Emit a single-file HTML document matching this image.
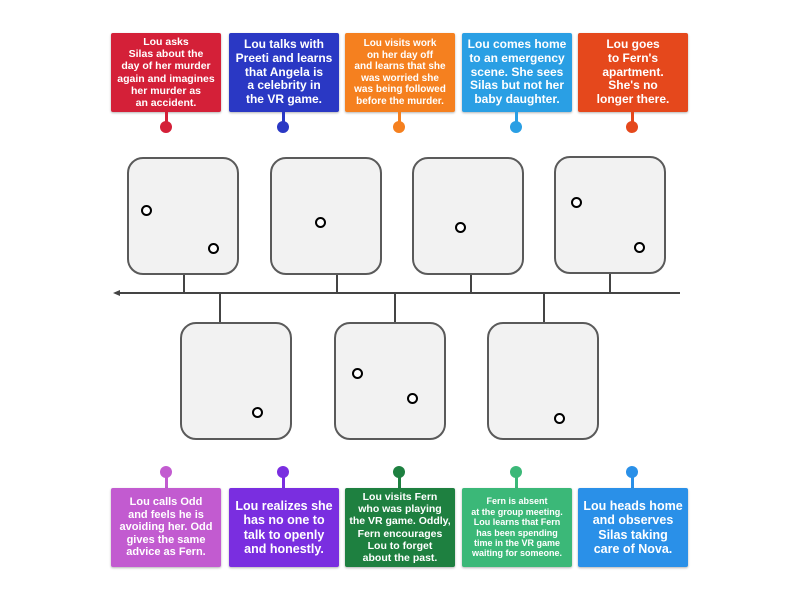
<!DOCTYPE html>
<html><head><style>
body{margin:0;width:800px;height:600px;background:#fff;position:relative;overflow:hidden;font-family:"Liberation Sans",sans-serif}
.c{position:absolute;width:110px;height:79px;color:#fff;font-weight:bold;text-align:center;display:flex;align-items:center;justify-content:center;line-height:1.15;box-shadow:0 1px 2px rgba(0,0,0,.3);border-radius:2px}
.s{position:absolute;width:3px;height:14px}
.d{position:absolute;width:12px;height:12px;border-radius:50%}
.b{position:absolute;width:108px;height:114px;background:#f2f2f2;border:2px solid #5a5a5a;border-radius:16px}
.o{position:absolute;width:7px;height:7px;border:2.5px solid #000;border-radius:50%;background:#fff}
.v{position:absolute;width:2px;background:#444}
</style></head><body>
<svg style="position:absolute;left:0;top:0" width="800" height="600">
<line x1="117" y1="293" x2="680" y2="293" stroke="#444" stroke-width="2"/>
<polygon points="113,293 120,290 120,296" fill="#444"/>
</svg>
<div class="v" style="left:183px;top:274px;height:19px"></div>
<div class="v" style="left:336px;top:274px;height:19px"></div>
<div class="v" style="left:470px;top:274px;height:19px"></div>
<div class="v" style="left:609px;top:274px;height:19px"></div>
<div class="v" style="left:219px;top:293px;height:30px"></div>
<div class="v" style="left:394px;top:293px;height:30px"></div>
<div class="v" style="left:543px;top:293px;height:30px"></div>

<div class="b" style="left:127px;top:157px"></div>
<div class="b" style="left:270px;top:157px"></div>
<div class="b" style="left:412px;top:157px"></div>
<div class="b" style="left:554px;top:156px"></div>
<div class="b" style="left:180px;top:322px"></div>
<div class="b" style="left:334px;top:322px"></div>
<div class="b" style="left:487px;top:322px"></div>

<div class="o" style="left:141px;top:205px"></div>
<div class="o" style="left:208px;top:243px"></div>
<div class="o" style="left:315px;top:217px"></div>
<div class="o" style="left:455px;top:222px"></div>
<div class="o" style="left:571px;top:197px"></div>
<div class="o" style="left:634px;top:242px"></div>
<div class="o" style="left:252px;top:407px"></div>
<div class="o" style="left:352px;top:368px"></div>
<div class="o" style="left:407px;top:393px"></div>
<div class="o" style="left:554px;top:413px"></div>

<div class="c" style="left:111px;top:33px;background:#d42038;font-size:10.5px">Lou asks<br>Silas about the<br>day of her murder<br>again and imagines<br>her murder as<br>an accident.</div>
<div class="c" style="left:229px;top:33px;background:#2a38c4;font-size:12px">Lou talks with<br>Preeti and learns<br>that Angela is<br>a celebrity in<br>the VR game.</div>
<div class="c" style="left:345px;top:33px;background:#f5801f;font-size:10px">Lou visits work<br>on her day off<br>and learns that she<br>was worried she<br>was being followed<br>before the murder.</div>
<div class="c" style="left:462px;top:33px;background:#2a9fe4;font-size:12px">Lou comes home<br>to an emergency<br>scene. She sees<br>Silas but not her<br>baby daughter.</div>
<div class="c" style="left:578px;top:33px;background:#e5481c;font-size:12px">Lou goes<br>to Fern's<br>apartment.<br>She's no<br>longer there.</div>
<div class="s" style="left:165px;top:112px;background:#d42038"></div><div class="d" style="left:160px;top:121px;background:#d42038"></div>
<div class="s" style="left:282px;top:112px;background:#2a38c4"></div><div class="d" style="left:277px;top:121px;background:#2a38c4"></div>
<div class="s" style="left:398px;top:112px;background:#f5801f"></div><div class="d" style="left:393px;top:121px;background:#f5801f"></div>
<div class="s" style="left:515px;top:112px;background:#2a9fe4"></div><div class="d" style="left:510px;top:121px;background:#2a9fe4"></div>
<div class="s" style="left:631px;top:112px;background:#e5481c"></div><div class="d" style="left:626px;top:121px;background:#e5481c"></div>

<div class="d" style="left:160px;top:466px;background:#c25bd0"></div><div class="s" style="left:165px;top:474px;background:#c25bd0"></div>
<div class="d" style="left:277px;top:466px;background:#7a2ee0"></div><div class="s" style="left:282px;top:474px;background:#7a2ee0"></div>
<div class="d" style="left:393px;top:466px;background:#1e8040"></div><div class="s" style="left:398px;top:474px;background:#1e8040"></div>
<div class="d" style="left:510px;top:466px;background:#3bb878"></div><div class="s" style="left:515px;top:474px;background:#3bb878"></div>
<div class="d" style="left:626px;top:466px;background:#2a90e8"></div><div class="s" style="left:631px;top:474px;background:#2a90e8"></div>
<div class="c" style="left:111px;top:488px;background:#c25bd0;font-size:11px">Lou calls Odd<br>and feels he is<br>avoiding her. Odd<br>gives the same<br>advice as Fern.</div>
<div class="c" style="left:229px;top:488px;background:#7a2ee0;font-size:12.5px">Lou realizes she<br>has no one to<br>talk to openly<br>and honestly.</div>
<div class="c" style="left:345px;top:488px;background:#1e8040;font-size:10.5px">Lou visits Fern<br>who was playing<br>the VR game. Oddly,<br>Fern encourages<br>Lou to forget<br>about the past.</div>
<div class="c" style="left:462px;top:488px;background:#3bb878;font-size:9px">Fern is absent<br>at the group meeting.<br>Lou learns that Fern<br>has been spending<br>time in the VR game<br>waiting for someone.</div>
<div class="c" style="left:578px;top:488px;background:#2a90e8;font-size:12.5px">Lou heads home<br>and observes<br>Silas taking<br>care of Nova.</div>
</body></html>
